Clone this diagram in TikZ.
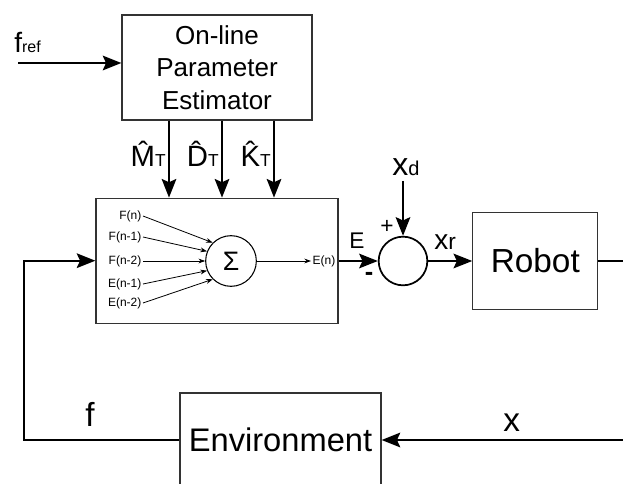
\documentclass[tikz,border=0pt]{standalone}
\usepackage{fontspec}
\setmainfont{Liberation Sans}
\usetikzlibrary{positioning,arrows.meta}

\begin{document}
\begin{tikzpicture}[
    x=0.75pt, y=-0.75pt,
    block/.style={draw=black!80, line width=0.9pt, inner sep=0pt, align=center},
    junction/.style={draw, circle, inner sep=0pt},
    arr/.style={-{Stealth[length=14pt,width=11pt,inset=2.5pt]}, line width=1.4pt},
    wire/.style={line width=1.3pt},
    tapArr/.style={-{Stealth[length=5pt,width=3.6pt]}, line width=0.6pt},
    tap/.style={font=\fontsize{9}{10}\selectfont, inner sep=1pt, anchor=east},
    lbl/.style={inner sep=0pt, anchor=base west}
]
\useasboundingbox (0,0) rectangle (623,484);

% blocks
\node[block, minimum width=142.5pt, minimum height=78.75pt,
      font=\fontsize{19.5}{24.5}\selectfont] (est) at (217,67.5) {On-line\\Parameter\\Estimator};
\node[block, minimum width=181.5pt, minimum height=93.75pt,
      below=57.75pt of est] (ctrl) {};
\node[junction, line width=0.8pt, minimum size=38pt,
      font=\fontsize{20}{20}\selectfont] (sig) at (231,261) {Σ};
\node[junction, line width=1.3pt, minimum size=36.5pt] (sum) at (403,261) {};
\node[block, minimum width=93.75pt, minimum height=72.75pt,
      font=\fontsize{25}{25}\selectfont, right=33pt of sum] (robot) {Robot};
\node[block, minimum width=150.75pt, minimum height=70.5pt,
      font=\fontsize{24.5}{24.5}\selectfont] (env) at (280.5,440) {Environment};

% reference force into the estimator
\coordinate (fin) at (18,63);
\draw[arr] (fin) -- (fin -| est.west);
\node[lbl] (fref) at (14,53) {\fontsize{21}{21}\selectfont f{\fontsize{12}{12}\selectfont ref}};

% estimated parameters
\foreach \px/\nm/\sym in {169/mt/M, 222/dt/D, 274/kt/K} {
  \coordinate (c\nm) at (\px,0);
  \draw[arr] (est.south -| c\nm) -- (ctrl.north -| c\nm);
  \node[anchor=base east, inner sep=0pt] (\nm) at (\px-3,167)
    {\fontsize{22}{22}\selectfont\^{\sym}{\fontsize{13}{13}\selectfont T}};
}

% difference equation inside the filter
\foreach \nm/\txt/\py/\ang in {fn0/F(n)/216/135, fn1/F(n-1)/237/158, fn2/F(n-2)/261/180,
                               en1/E(n-1)/284/202, en2/E(n-2)/303/225} {
  \node[tap] (\nm) at (143,\py) {\txt};
  \draw[tapArr] (\nm.east) -- (sig.\ang);
}
\node[tap, anchor=west] (en) at (311,261) {E(n)};
\draw[tapArr] (sig.east) -- (en.west);

% summing junction and robot
\draw[arr] (sum.west -| ctrl.east) -- (sum.west);
\node[anchor=base, inner sep=0pt, font=\fontsize{17}{17}\selectfont] (elab) at (357,248) {E};
\node[inner sep=0pt, font=\fontsize{19}{19}\selectfont\bfseries] (minus) at (369,276) {-};
\node[inner sep=0pt, font=\fontsize{17}{17}\selectfont] (plus) at (387,227) {+};

\coordinate (xd) at (403,181);
\draw[arr] (xd) -- (sum.north);
\node[lbl] (xdlab) at (392,176) {\fontsize{24}{24}\selectfont x{\fontsize{15}{15}\selectfont d}};

\draw[arr] (sum.east) -- (robot.west);
\node[lbl] (xrlab) at (434,249) {\fontsize{21}{21}\selectfont x{\fontsize{17}{17}\selectfont r}};

% outer loop through the environment
\coordinate (rout) at (623,261);
\draw[wire] (robot.east) -- (rout);
\coordinate (xin) at (623,440);
\draw[arr] (xin) -- (env.east);
\node[lbl] (xlab) at (503,431) {\fontsize{25}{25}\selectfont x};

\coordinate (fbk) at (24,350);
\draw[arr] (env.west) -| (fbk) |- (ctrl.west);
\node[lbl] (flab) at (85,426) {\fontsize{25}{25}\selectfont f};
\end{tikzpicture}
\end{document}
